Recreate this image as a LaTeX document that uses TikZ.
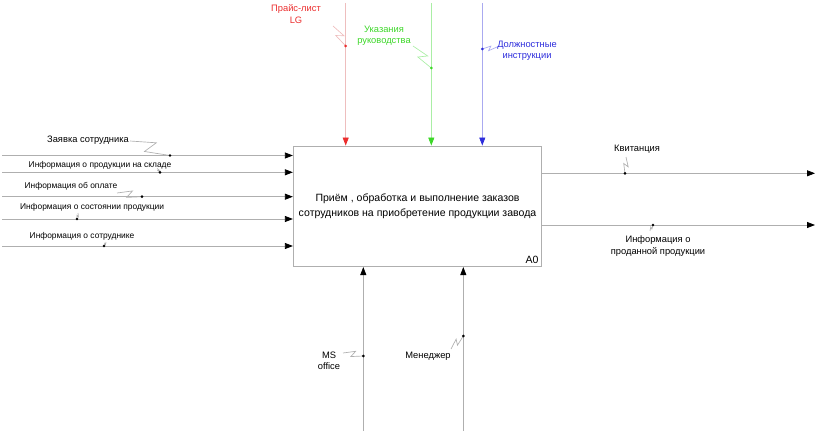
\documentclass[tikz,border=0pt]{standalone}
\usepackage{fontspec}
\setmainfont{Liberation Sans}
\usetikzlibrary{arrows.meta,calc}

\definecolor{lineg}{RGB}{175,175,175}
\definecolor{redl}{RGB}{238,190,190}
\definecolor{redt}{RGB}{235,45,45}
\definecolor{greenl}{RGB}{170,238,165}
\definecolor{greent}{RGB}{60,215,40}
\definecolor{bluel}{RGB}{170,170,240}
\definecolor{bluet}{RGB}{45,45,220}

\tikzset{
  flow/.style={draw=lineg,line width=0.6pt,-{Triangle[length=6pt,width=4.5pt,color=black]}},
  lbl/.style={font=\fontsize{7}{8.6}\selectfont,align=center,inner sep=0pt},
  lbls/.style={lbl,font=\fontsize{6.3}{8}\selectfont},
  squig/.style={draw=lineg,line width=0.5pt,
    to path={-- ($(\tikztostart)!0.62!16:(\tikztotarget)$)
             -- ($(\tikztostart)!0.42!-16:(\tikztotarget)$)
             -- (\tikztotarget)}},
  pin/.style={circle,fill=black,inner sep=0pt,minimum size=2.2pt}
}

\begin{document}
\begin{tikzpicture}[x=0.75pt,y=-0.75pt]
  \useasboundingbox (0,0) rectangle (821,431);

  % activity box
  \node[draw=lineg,line width=0.6pt,minimum width=186.3pt,minimum height=90.5pt,
        font=\fontsize{7.9}{10}\selectfont,align=center,text depth=0pt]
    (proc) at (417.5,206.3) {\raisebox{2pt}{\shortstack{Приём , обработка и выполнение заказов\\[1pt]сотрудников на приобретение продукции завода}}};
  \node[font=\fontsize{7.9}{10}\selectfont,anchor=south east,inner sep=2.5pt] (num) at (proc.south east) {A0};

  % inputs
  \coordinate (in1) at (2,155.5);
  \coordinate (in2) at (2,172.3);
  \coordinate (in3) at (2,196.7);
  \coordinate (in4) at (2,219);
  \coordinate (in5) at (2,246);
  \foreach \i in {1,...,5}
    \draw[flow] (in\i) -- (in\i -| proc.west);

  \node[lbl] (zayavka) at (88,140) {Заявка сотрудника};
  \node[lbls] (sklad) at (100,165) {Информация о продукции на складе};
  \node[lbls] (oplata) at (71,186) {Информация об оплате};
  \node[lbls] (sost) at (92,207) {Информация о состоянии продукции};
  \node[lbls] (sotr) at (82,236) {Информация о сотруднике};

  \coordinate (d1) at (170,155.5);
  \coordinate (d2) at (160,172.3);
  \coordinate (d3) at (142,196.7);
  \coordinate (d4) at (77,219);
  \coordinate (d5) at (104,246);
  \coordinate (s1) at (130,141);
  \coordinate (s2) at (157,168.5);
  \coordinate (s3) at (117,193);
  \coordinate (s4) at (78,213);
  \coordinate (s5) at (106,242);
  \foreach \i in {1,...,5}{
    \draw[squig] (s\i) to (d\i);
    \node[pin] at (d\i) {};
  }

  % controls
  \coordinate (c1) at (345.7,3);
  \coordinate (c2) at (431.3,3);
  \coordinate (c3) at (482.3,3);
  \draw[draw=redl,line width=0.6pt,-{Triangle[length=6pt,width=4.5pt,color=redt]}] (c1) -- (c1 |- proc.north);
  \draw[draw=greenl,line width=0.6pt,-{Triangle[length=6pt,width=4.5pt,color=greent]}] (c2) -- (c2 |- proc.north);
  \draw[draw=bluel,line width=0.6pt,-{Triangle[length=6pt,width=4.5pt,color=bluet]}] (c3) -- (c3 |- proc.north);

  \node[lbl,text=redt] (price) at (296,14) {Прайс-лист\\LG};
  \node[lbl,text=greent] (ukaz) at (384,36) {Указания\\руководства};
  \node[lbl,text=bluet] (dolzh) at (527,51) {Должностные\\инструкции};

  \coordinate (dc1) at (345.7,46);
  \coordinate (dc2) at (431.3,68);
  \coordinate (dc3) at (482.3,49);
  \draw[squig,draw=redl] (333,26) to (dc1);
  \draw[squig,draw=greenl] (413,46) to (dc2);
  \draw[squig,draw=bluel] (dolzh.west) ++(0,-4) to (dc3);
  \node[pin,fill=redt] at (dc1) {};
  \node[pin,fill=greent] at (dc2) {};
  \node[pin,fill=bluet] at (dc3) {};

  % outputs
  \coordinate (o1) at (815,173.3);
  \coordinate (o2) at (815,225);
  \draw[flow] (proc.east |- o1) -- (o1);
  \draw[flow] (proc.east |- o2) -- (o2);

  \node[lbl] (kvit) at (637,149) {Квитанция};
  \node[lbl] (prod) at (658,246) {Информация о\\проданной продукции};
  \coordinate (do1) at (625,173.3);
  \coordinate (do2) at (653,225);
  \draw[squig] (626,157) to (do1);
  \draw[squig] (650,231) to (do2);
  \node[pin] at (do1) {};
  \node[pin] at (do2) {};

  % mechanisms
  \coordinate (m1) at (363.3,431);
  \coordinate (m2) at (463.3,431);
  \draw[flow] (m1) -- (m1 |- proc.south);
  \draw[flow] (m2) -- (m2 |- proc.south);

  \node[lbl] (ms) at (329,361) {MS\\office};
  \node[lbl] (men) at (428,356) {Менеджер};
  \coordinate (dm1) at (363.3,356);
  \coordinate (dm2) at (463.3,336);
  \draw[squig] (343,353) to (dm1);
  \draw[squig] (451,349) to (dm2);
  \node[pin] at (dm1) {};
  \node[pin] at (dm2) {};
\end{tikzpicture}
\end{document}
